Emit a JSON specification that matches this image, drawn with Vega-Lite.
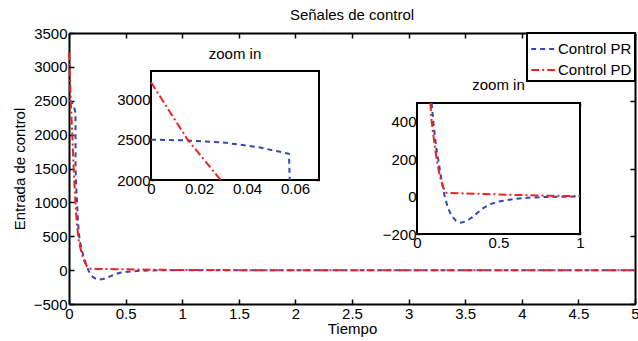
{
  "$schema": "https://vega.github.io/schema/vega-lite/v6.json",
  "width": 566,
  "height": 271,
  "autosize": "none",
  "padding": {"left": 69, "top": 33, "right": 3, "bottom": 37},
  "config": {
    "view": {"stroke": null},
    "font": "Liberation Sans",
    "axis": {
      "labelFont": "Liberation Sans", "labelFontSize": 15, "labelColor": "#000",
      "titleFont": "Liberation Sans", "titleFontSize": 15, "titleFontWeight": "normal", "titleColor": "#000",
      "domainColor": "#000", "domainWidth": 2, "tickColor": "#000", "tickWidth": 1.5, "tickSize": -5,
      "labelPadding": 7, "labelFlush": false, "labelOverlap": false, "grid": false, "zindex": 1, "format": ".4~r",
      "minExtent": 0
    },
    "legend": {
      "orient": "top-right", "offset": 0, "title": null,
      "strokeColor": "#000", "strokeWidth": 2, "fillColor": "#fff", "padding": 3,
      "symbolType": "stroke", "symbolSize": 560, "symbolStrokeWidth": 2,
      "labelFont": "Liberation Sans", "labelFontSize": 15, "labelColor": "#000", "labelOffset": 2, "rowPadding": 0
    }
  },
  "datasets": {
    "main": [
      {"t": 0, "v": 2500, "s": "Control PR"}, {"t": 0.015, "v": 2490, "s": "Control PR"}, {"t": 0.03, "v": 2465, "s": "Control PR"},
      {"t": 0.045, "v": 2405, "s": "Control PR"}, {"t": 0.0575, "v": 2325, "s": "Control PR"}, {"t": 0.058, "v": 1500, "s": "Control PR"},
      {"t": 0.065, "v": 1200, "s": "Control PR"}, {"t": 0.071, "v": 1000, "s": "Control PR"}, {"t": 0.08, "v": 700, "s": "Control PR"},
      {"t": 0.09, "v": 500, "s": "Control PR"}, {"t": 0.1, "v": 400, "s": "Control PR"}, {"t": 0.11, "v": 320, "s": "Control PR"},
      {"t": 0.12, "v": 250, "s": "Control PR"}, {"t": 0.13, "v": 200, "s": "Control PR"}, {"t": 0.15, "v": 90, "s": "Control PR"},
      {"t": 0.17, "v": 0, "s": "Control PR"}, {"t": 0.19, "v": -60, "s": "Control PR"}, {"t": 0.21, "v": -100, "s": "Control PR"},
      {"t": 0.24, "v": -130, "s": "Control PR"}, {"t": 0.27, "v": -140, "s": "Control PR"}, {"t": 0.3, "v": -132, "s": "Control PR"},
      {"t": 0.34, "v": -110, "s": "Control PR"}, {"t": 0.4, "v": -65, "s": "Control PR"}, {"t": 0.45, "v": -40, "s": "Control PR"},
      {"t": 0.5, "v": -27, "s": "Control PR"}, {"t": 0.6, "v": -12, "s": "Control PR"}, {"t": 0.7, "v": -5, "s": "Control PR"},
      {"t": 0.8, "v": -2, "s": "Control PR"}, {"t": 0.9, "v": -1, "s": "Control PR"}, {"t": 1, "v": 0, "s": "Control PR"},
      {"t": 2, "v": 0, "s": "Control PR"}, {"t": 3, "v": 0, "s": "Control PR"}, {"t": 4, "v": 0, "s": "Control PR"}, {"t": 5, "v": 0, "s": "Control PR"},
      {"t": 0, "v": 3210, "s": "Control PD"}, {"t": 0.015, "v": 2510, "s": "Control PD"}, {"t": 0.029, "v": 2000, "s": "Control PD"},
      {"t": 0.04, "v": 1550, "s": "Control PD"}, {"t": 0.05, "v": 1200, "s": "Control PD"}, {"t": 0.06, "v": 900, "s": "Control PD"},
      {"t": 0.07, "v": 680, "s": "Control PD"}, {"t": 0.08, "v": 520, "s": "Control PD"}, {"t": 0.09, "v": 400, "s": "Control PD"},
      {"t": 0.1, "v": 330, "s": "Control PD"}, {"t": 0.12, "v": 200, "s": "Control PD"}, {"t": 0.14, "v": 110, "s": "Control PD"},
      {"t": 0.16, "v": 50, "s": "Control PD"}, {"t": 0.18, "v": 20, "s": "Control PD"}, {"t": 0.25, "v": 18, "s": "Control PD"},
      {"t": 0.4, "v": 14, "s": "Control PD"}, {"t": 0.6, "v": 9, "s": "Control PD"}, {"t": 0.8, "v": 5, "s": "Control PD"},
      {"t": 1, "v": 2, "s": "Control PD"}, {"t": 1.5, "v": 0, "s": "Control PD"}, {"t": 5, "v": 0, "s": "Control PD"}
    ],
    "inset1": [
      {"t": 0, "v": 2500, "s": "Control PR"}, {"t": 0.015, "v": 2490, "s": "Control PR"}, {"t": 0.03, "v": 2465, "s": "Control PR"},
      {"t": 0.045, "v": 2405, "s": "Control PR"}, {"t": 0.0575, "v": 2325, "s": "Control PR"}, {"t": 0.0578, "v": 2000, "s": "Control PR"},
      {"t": 0, "v": 3210, "s": "Control PD"}, {"t": 0.015, "v": 2510, "s": "Control PD"}, {"t": 0.029, "v": 2000, "s": "Control PD"}
    ],
    "inset2": [
      {"t": 0.09, "v": 500, "s": "Control PR"}, {"t": 0.1, "v": 400, "s": "Control PR"}, {"t": 0.11, "v": 320, "s": "Control PR"},
      {"t": 0.12, "v": 250, "s": "Control PR"}, {"t": 0.13, "v": 200, "s": "Control PR"}, {"t": 0.15, "v": 90, "s": "Control PR"},
      {"t": 0.17, "v": 0, "s": "Control PR"}, {"t": 0.19, "v": -60, "s": "Control PR"}, {"t": 0.21, "v": -100, "s": "Control PR"},
      {"t": 0.24, "v": -130, "s": "Control PR"}, {"t": 0.27, "v": -140, "s": "Control PR"}, {"t": 0.3, "v": -132, "s": "Control PR"},
      {"t": 0.34, "v": -110, "s": "Control PR"}, {"t": 0.4, "v": -65, "s": "Control PR"}, {"t": 0.45, "v": -40, "s": "Control PR"},
      {"t": 0.5, "v": -27, "s": "Control PR"}, {"t": 0.6, "v": -12, "s": "Control PR"}, {"t": 0.7, "v": -5, "s": "Control PR"},
      {"t": 0.8, "v": -2, "s": "Control PR"}, {"t": 0.9, "v": -1, "s": "Control PR"}, {"t": 1, "v": 0, "s": "Control PR"},
      {"t": 0.082, "v": 500, "s": "Control PD"}, {"t": 0.09, "v": 400, "s": "Control PD"}, {"t": 0.1, "v": 330, "s": "Control PD"},
      {"t": 0.12, "v": 200, "s": "Control PD"}, {"t": 0.14, "v": 110, "s": "Control PD"}, {"t": 0.16, "v": 50, "s": "Control PD"},
      {"t": 0.18, "v": 20, "s": "Control PD"}, {"t": 0.25, "v": 18, "s": "Control PD"}, {"t": 0.4, "v": 14, "s": "Control PD"},
      {"t": 0.6, "v": 9, "s": "Control PD"}, {"t": 0.8, "v": 5, "s": "Control PD"}, {"t": 1, "v": 2, "s": "Control PD"}
    ],
    "one": [{}]
  },
  "resolve": {"scale": {"x": "independent", "y": "independent"}, "axis": {"x": "independent", "y": "independent"}},
  "layer": [
    {
      "data": {"name": "main"},
      "mark": {"type": "line", "strokeWidth": 2},
      "encoding": {
        "x": {"field": "t", "type": "quantitative", "scale": {"domain": [0, 5], "nice": false, "zero": false},
              "axis": {"title": "Tiempo", "values": [0, 0.5, 1, 1.5, 2, 2.5, 3, 3.5, 4, 4.5, 5], "titleBaseline": "alphabetic", "titleY": 29}},
        "y": {"field": "v", "type": "quantitative", "scale": {"domain": [-500, 3500], "nice": false, "zero": false},
              "axis": {"title": "Entrada de control", "values": [-500, 0, 500, 1000, 1500, 2000, 2500, 3000, 3500], "titleX": -50, "titleY": 135.5, "titleBaseline": "middle", "titleAlign": "center", "titleAngle": -90}},
        "color": {"field": "s", "type": "nominal", "scale": {"domain": ["Control PR", "Control PD"], "range": ["#3446b0", "#ee2222"]}, "legend": {"title": null}},
        "strokeDash": {"field": "s", "type": "nominal", "scale": {"domain": ["Control PR", "Control PD"], "range": [[5, 4], [8, 3, 2, 3]]}, "legend": {"title": null}}
      }
    },
    {
      "layer": [
        {
          "data": {"name": "one"},
          "mark": {"type": "point", "opacity": 0},
          "encoding": {
            "x": {"datum": 0, "type": "quantitative", "scale": {"domain": [0, 5], "nice": false, "zero": false},
                  "axis": {"orient": "top", "labels": false, "title": null, "values": [0, 0.5, 1, 1.5, 2, 2.5, 3, 3.5, 4, 4.5, 5]}},
            "y": {"datum": 0, "type": "quantitative", "scale": {"domain": [-500, 3500], "nice": false, "zero": false},
                  "axis": {"orient": "right", "labels": false, "title": null, "values": [-500, 0, 500, 1000, 1500, 2000, 2500, 3000, 3500]}}
          }
        },
        {
          "data": {"name": "one"},
          "mark": {"type": "text", "text": "Señales de control", "fontSize": 15, "font": "Liberation Sans", "baseline": "alphabetic", "dy": -13, "color": "#000"},
          "encoding": {
            "x": {"datum": 2.5, "type": "quantitative"},
            "y": {"datum": 3500, "type": "quantitative"}
          }
        }
      ]
    },
    {
      "layer": [
        {
          "data": {"name": "one"},
          "mark": {"type": "rect", "fill": "#fff", "stroke": "#000", "strokeWidth": 2},
          "encoding": {
            "x": {"datum": 0, "type": "quantitative", "scale": {"domain": [0, 0.07], "range": [82, 250], "nice": false, "zero": false},
                  "axis": {"orient": "bottom", "offset": -124, "title": null, "domain": false, "tickSize": -3, "labelPadding": 4, "values": [0, 0.02, 0.04, 0.06]}},
            "x2": {"datum": 0.07},
            "y": {"datum": 2000, "type": "quantitative", "scale": {"domain": [2000, 3350], "range": [147, 38], "nice": false, "zero": false},
                  "axis": {"orient": "left", "offset": -82, "title": null, "domain": false, "tickSize": -3, "labelPadding": 4, "values": [2000, 2500, 3000]}},
            "y2": {"datum": 3350}
          }
        },
        {
          "data": {"name": "inset1"},
          "mark": {"type": "line", "strokeWidth": 2},
          "encoding": {
            "x": {"field": "t", "type": "quantitative"},
            "y": {"field": "v", "type": "quantitative"},
            "color": {"field": "s", "type": "nominal", "legend": {"title": null}},
            "strokeDash": {"field": "s", "type": "nominal", "legend": {"title": null}}
          }
        },
        {
          "data": {"name": "one"},
          "mark": {"type": "text", "text": "zoom in", "fontSize": 15, "font": "Liberation Sans", "baseline": "alphabetic", "dy": -12, "color": "#000"},
          "encoding": {
            "x": {"datum": 0.035, "type": "quantitative"},
            "y": {"datum": 3350, "type": "quantitative"}
          }
        }
      ]
    },
    {
      "data": {"name": "one"},
      "mark": {"type": "point", "opacity": 0},
      "encoding": {
        "x": {"datum": 0, "type": "quantitative", "scale": {"domain": [0, 0.07], "range": [82, 250], "nice": false, "zero": false},
              "axis": {"orient": "top", "offset": -38, "labels": false, "title": null, "domain": false, "tickSize": -3, "values": [0, 0.02, 0.04, 0.06]}},
        "y": {"datum": 2000, "type": "quantitative", "scale": {"domain": [2000, 3350], "range": [147, 38], "nice": false, "zero": false},
              "axis": {"orient": "right", "offset": -316, "labels": false, "title": null, "domain": false, "tickSize": -3, "values": [2000, 2500, 3000]}}
      }
    },
    {
      "layer": [
        {
          "data": {"name": "one"},
          "mark": {"type": "rect", "fill": "#fff", "stroke": "#000", "strokeWidth": 2},
          "encoding": {
            "x": {"datum": 0, "type": "quantitative", "scale": {"domain": [0, 1], "range": [348, 511], "nice": false, "zero": false},
                  "axis": {"orient": "bottom", "offset": -70, "title": null, "domain": false, "tickSize": -3, "labelPadding": 4, "values": [0, 0.5, 1]}},
            "x2": {"datum": 1},
            "y": {"datum": -200, "type": "quantitative", "scale": {"domain": [-200, 500], "range": [201, 70], "nice": false, "zero": false},
                  "axis": {"orient": "left", "offset": -348, "title": null, "domain": false, "tickSize": -3, "labelPadding": 4, "values": [-200, 0, 200, 400]}},
            "y2": {"datum": 500}
          }
        },
        {
          "data": {"name": "inset2"},
          "mark": {"type": "line", "strokeWidth": 2},
          "encoding": {
            "x": {"field": "t", "type": "quantitative"},
            "y": {"field": "v", "type": "quantitative"},
            "color": {"field": "s", "type": "nominal", "legend": {"title": null}},
            "strokeDash": {"field": "s", "type": "nominal", "legend": {"title": null}}
          }
        },
        {
          "data": {"name": "one"},
          "mark": {"type": "text", "text": "zoom in", "fontSize": 15, "font": "Liberation Sans", "baseline": "alphabetic", "dy": -13, "color": "#000"},
          "encoding": {
            "x": {"datum": 0.5, "type": "quantitative"},
            "y": {"datum": 500, "type": "quantitative"}
          }
        }
      ]
    },
    {
      "data": {"name": "one"},
      "mark": {"type": "point", "opacity": 0},
      "encoding": {
        "x": {"datum": 0, "type": "quantitative", "scale": {"domain": [0, 1], "range": [348, 511], "nice": false, "zero": false},
              "axis": {"orient": "top", "offset": -70, "labels": false, "title": null, "domain": false, "tickSize": -3, "values": [0, 0.5, 1]}},
        "y": {"datum": -200, "type": "quantitative", "scale": {"domain": [-200, 500], "range": [201, 70], "nice": false, "zero": false},
              "axis": {"orient": "right", "offset": -55, "labels": false, "title": null, "domain": false, "tickSize": -3, "values": [-200, 0, 200, 400]}}
      }
    }
  ]
}
